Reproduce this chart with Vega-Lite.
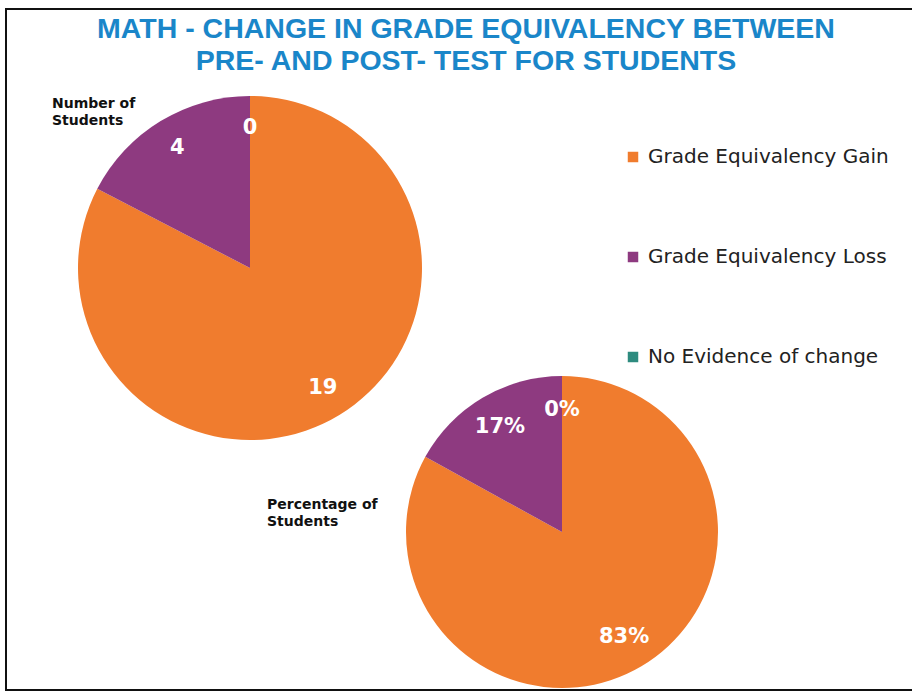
{
  "$schema": "https://vega.github.io/schema/vega-lite/v6.json",
  "width": 912,
  "height": 694,
  "autosize": {"type": "fit", "contains": "padding"},
  "padding": {"left": 6, "top": 9, "right": -4, "bottom": 4},
  "background": "white",
  "config": {
    "view": {"stroke": "#111", "strokeWidth": 2},
    "legend": {
      "orient": "none",
      "legendX": 617,
      "legendY": 138,
      "direction": "vertical",
      "symbolType": "square",
      "symbolSize": 110,
      "symbolStrokeWidth": 0,
      "labelFont": "DejaVu Sans",
      "labelFontSize": 20,
      "labelColor": "#222",
      "labelOffset": 5,
      "rowPadding": 80,
      "labelLimit": 400
    }
  },
  "title": {
    "text": ["MATH - CHANGE IN GRADE EQUIVALENCY BETWEEN", "PRE- AND POST- TEST FOR STUDENTS"],
    "color": "#1a86c9",
    "font": "Liberation Sans",
    "fontSize": 28.5,
    "fontWeight": "bold",
    "lineHeight": 32,
    "anchor": "middle",
    "offset": -66,
    "dx": 5
  },
  "datasets": {
    "slices": [
      {"chart": "Number", "category": "Grade Equivalency Gain", "value": 19, "label": "19"},
      {"chart": "Number", "category": "Grade Equivalency Loss", "value": 4, "label": "4"},
      {"chart": "Number", "category": "No Evidence of change", "value": 0, "label": "0"},
      {"chart": "Percentage", "category": "Grade Equivalency Gain", "value": 83, "label": "83%"},
      {"chart": "Percentage", "category": "Grade Equivalency Loss", "value": 17, "label": "17%"},
      {"chart": "Percentage", "category": "No Evidence of change", "value": 0, "label": "0%"}
    ]
  },
  "data": {"name": "slices"},
  "encoding": {
    "x": {"field": "chart", "type": "nominal", "scale": {"type": "point", "padding": 0, "domain": ["Number", "Percentage"], "range": [244, 556]}, "axis": null},
    "y": {"field": "chart", "type": "nominal", "scale": {"type": "point", "padding": 0, "domain": ["Number", "Percentage"], "range": [259, 523]}, "axis": null}
  },
  "layer": [
    {
      "transform": [{"filter": "datum.chart === 'Number'"}],
      "mark": {"type": "arc", "radius": 172},
      "encoding": {
        "theta": {"field": "value", "type": "quantitative", "stack": "normalize"},
        "order": {"field": "category", "type": "ordinal", "sort": "ascending"},
        "color": {
          "field": "category", "type": "nominal",
          "scale": {"domain": ["Grade Equivalency Gain", "Grade Equivalency Loss", "No Evidence of change"], "range": ["#f07c2e", "#8e3a80", "#2e8b7f"]},
          "legend": {"title": null}
        }
      }
    },
    {
      "transform": [{"filter": "datum.chart === 'Number'"}],
      "mark": {"type": "text", "radius": 140, "font": "DejaVu Sans", "fontSize": 21, "fontWeight": "bold", "color": "white"},
      "encoding": {
        "theta": {"field": "value", "type": "quantitative", "stack": "normalize"},
        "order": {"field": "category", "type": "ordinal", "sort": "ascending"},
        "text": {"field": "label"}
      }
    },
    {
      "transform": [{"filter": "datum.chart === 'Percentage'"}],
      "mark": {"type": "arc", "radius": 156},
      "encoding": {
        "theta": {"field": "value", "type": "quantitative", "stack": "normalize"},
        "order": {"field": "category", "type": "ordinal", "sort": "ascending"},
        "color": {"field": "category", "type": "nominal"}
      }
    },
    {
      "transform": [{"filter": "datum.chart === 'Percentage'"}],
      "mark": {"type": "text", "radius": 122, "font": "DejaVu Sans", "fontSize": 21, "fontWeight": "bold", "color": "white"},
      "encoding": {
        "theta": {"field": "value", "type": "quantitative", "stack": "normalize"},
        "order": {"field": "category", "type": "ordinal", "sort": "ascending"},
        "text": {"field": "label"}
      }
    },
    {
      "transform": [{"filter": "datum.chart === 'Number' && datum.category === 'Grade Equivalency Gain'"}],
      "mark": {"type": "text", "text": ["Number of", "Students"], "align": "left", "baseline": "top", "dx": -198, "dy": -171, "font": "DejaVu Sans", "fontSize": 14, "fontWeight": "bold", "color": "#111", "lineHeight": 17}
    },
    {
      "transform": [{"filter": "datum.chart === 'Percentage' && datum.category === 'Grade Equivalency Gain'"}],
      "mark": {"type": "text", "text": ["Percentage of", "Students"], "align": "left", "baseline": "top", "dx": -295, "dy": -34, "font": "DejaVu Sans", "fontSize": 14, "fontWeight": "bold", "color": "#111", "lineHeight": 17}
    }
  ]
}
